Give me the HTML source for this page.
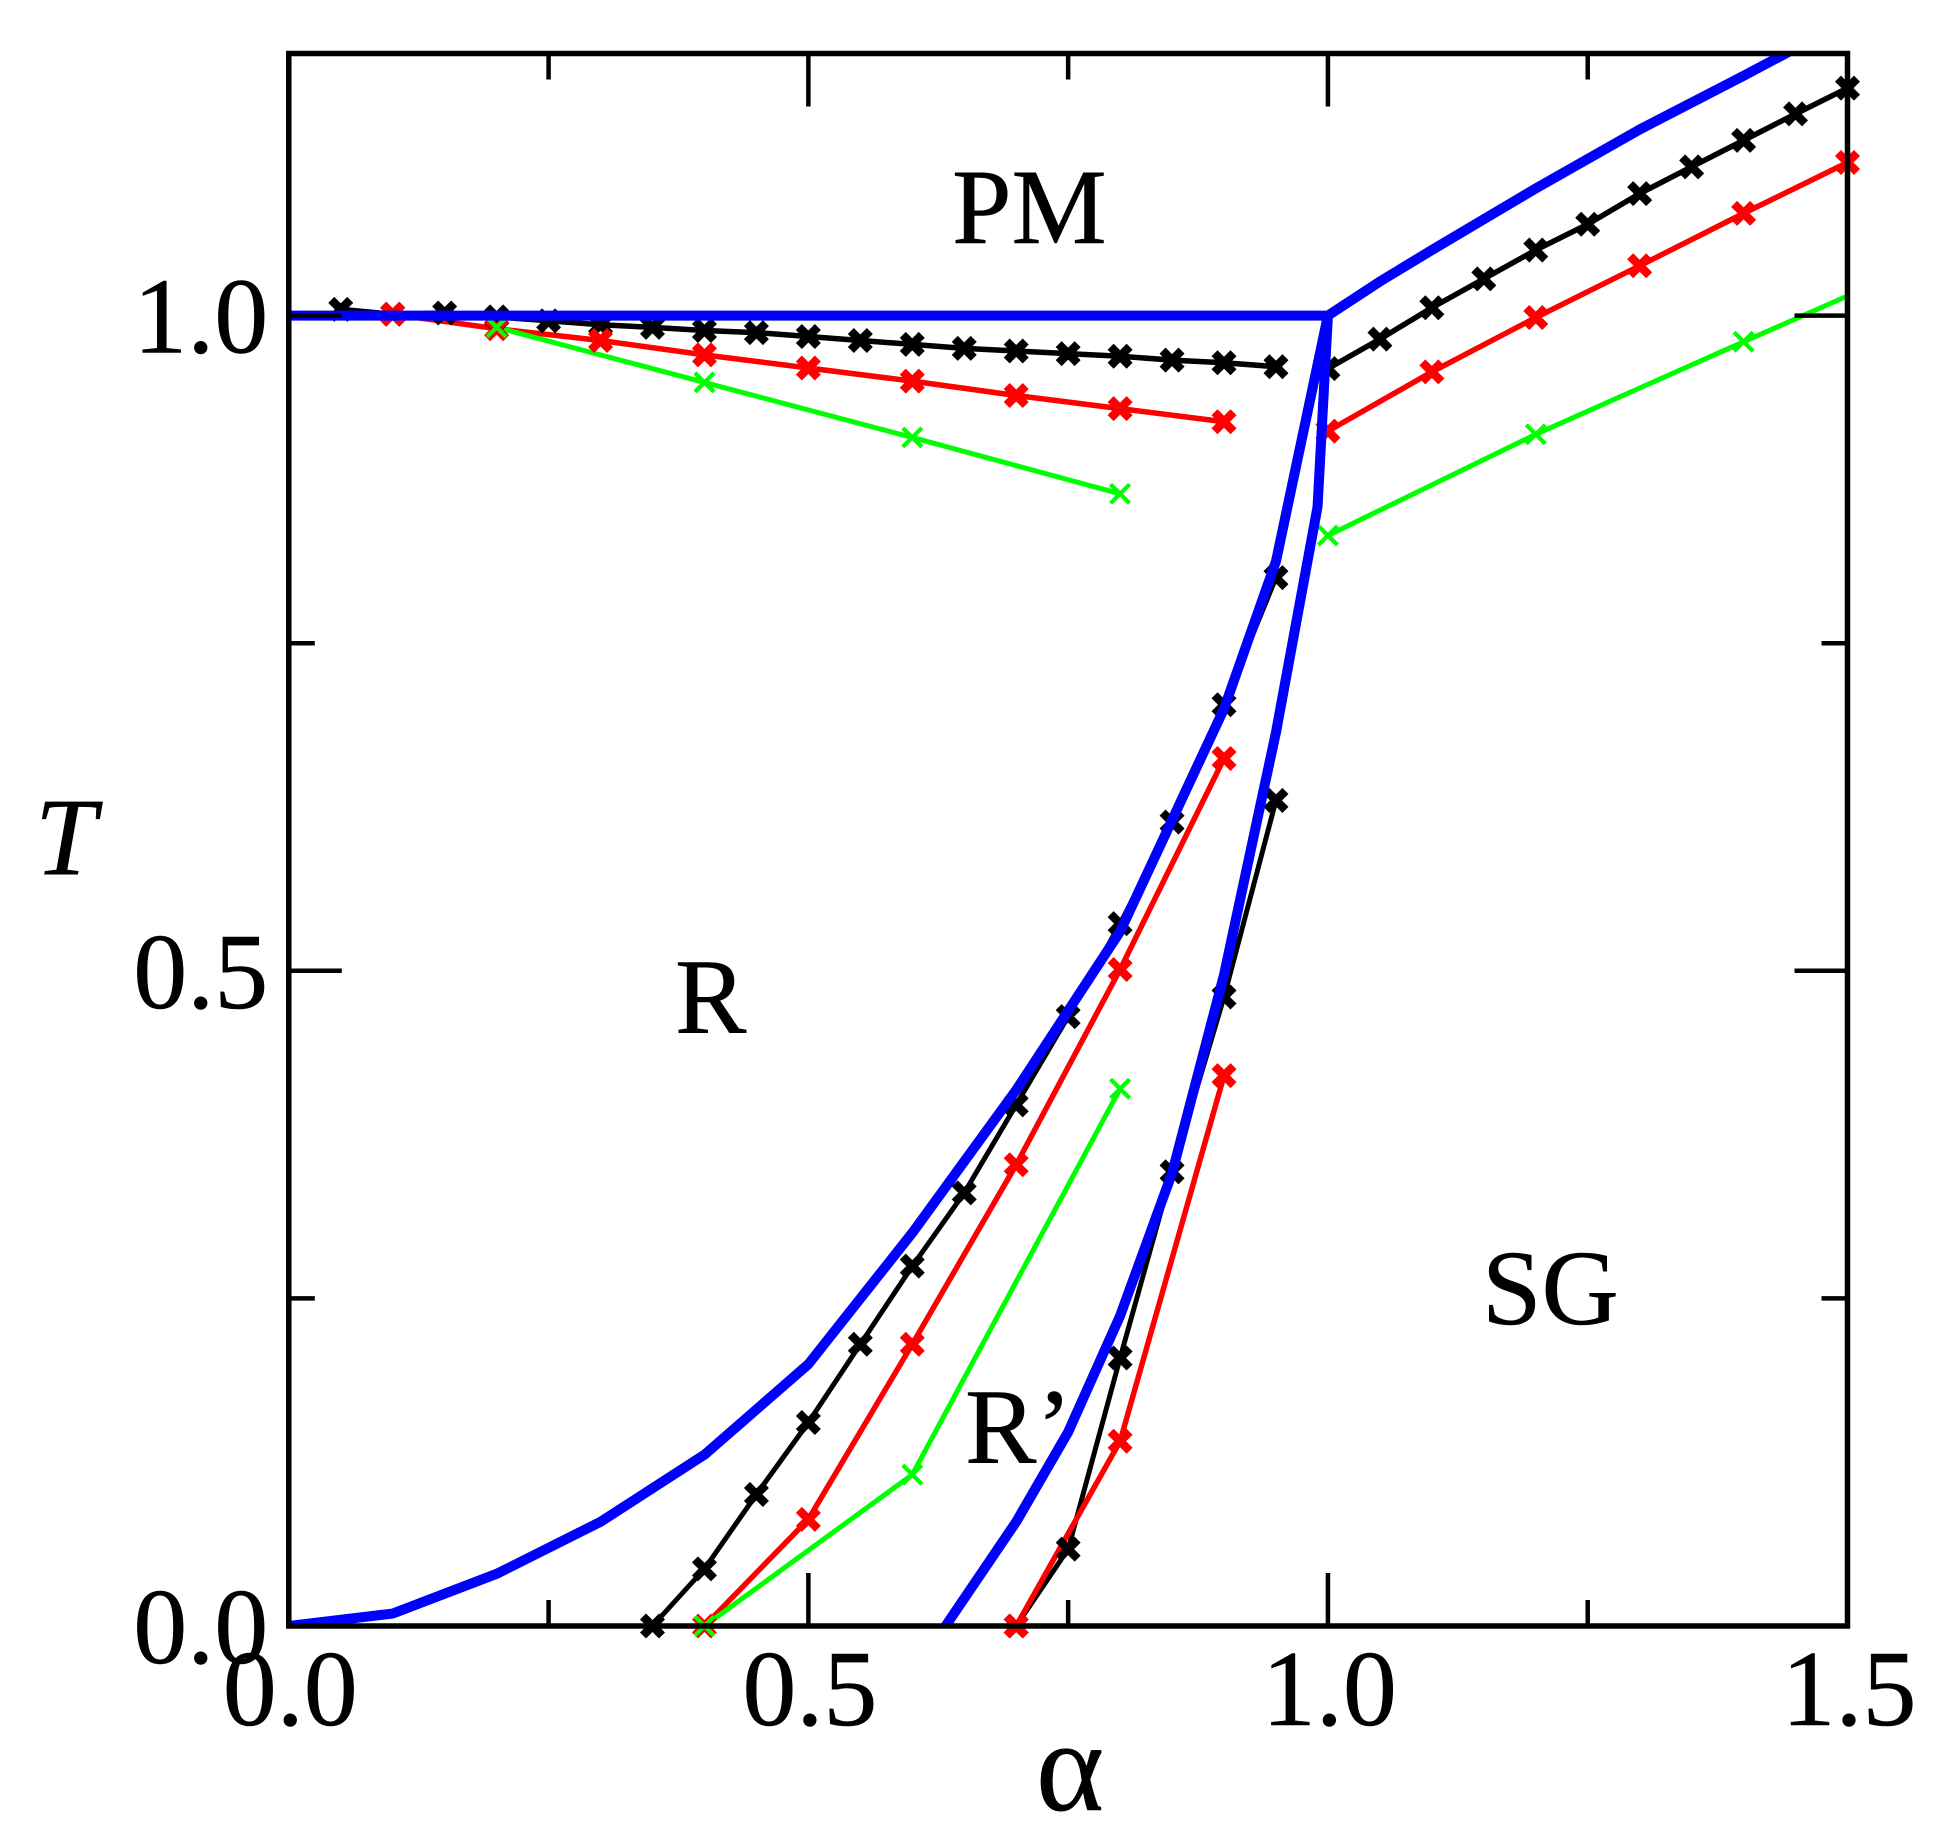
<!DOCTYPE html>
<html lang="en">
<head>
<meta charset="utf-8">
<title>Phase diagram T vs alpha</title>
<style>
html,body{margin:0;padding:0;background:#fff;}
svg{display:block;}
text{font-family:"Liberation Serif","DejaVu Serif",serif;fill:#000;stroke:#000;stroke-width:0.5px;}
</style>
</head>
<body>
<svg id="chart" xmlns="http://www.w3.org/2000/svg" width="1946" height="1840" viewBox="0 0 1946 1840">
  <rect x="0" y="0" width="1946" height="1840" fill="#ffffff"/>
  <defs>
    <clipPath id="plot-clip"><rect x="288.8" y="51" width="1558.7" height="1577"/></clipPath>
  </defs>
  <g id="lines" clip-path="url(#plot-clip)"></g>
  <g id="markers"></g>
  <g id="blue" clip-path="url(#plot-clip)"></g>
  <g id="axes"></g>
  <text x="1070" y="1810" font-size="130" text-anchor="middle">α</text>
  <text x="35" y="874" font-size="110" font-style="italic">T</text>
  <text x="952" y="243" font-size="107">PM</text>
  <text x="675" y="1033" font-size="107">R</text>
  <text x="965" y="1463" font-size="107">R’</text>
  <text x="1482" y="1324" font-size="107">SG</text>
</svg>
<script>
// Axis ranges and ticks
const xMajorTicks = [0, 0.5, 1.0, 1.5];
const xMinorTicks = [0.25, 0.75, 1.25];
const yMajorTicks = [0, 0.5, 1.0];
const yMinorTicks = [0.25, 0.75];
const xTickLabels = ["0.0", "0.5", "1.0", "1.5"];
const yTickLabels = ["0.0", "0.5", "1.0"];

// Black series
const blackUpperAlpha = [0.05,0.1,0.15,0.2,0.25,0.3,0.35,0.4,0.45,0.5,0.55,0.6,0.65,0.7,0.75,0.8,0.85,0.9,0.95];
const blackUpperT = [1.0047,1.001,1.002,0.999,0.996,0.993,0.991,0.9886,0.987,0.984,0.981,0.978,0.975,0.973,0.971,0.969,0.966,0.964,0.961];
const blackRightAlpha = [1.0,1.05,1.1,1.15,1.2,1.25,1.3,1.35,1.4,1.45,1.5];
const blackRightT = [0.9595,0.982,1.006,1.028,1.05,1.0697,1.0931,1.1135,1.1337,1.1539,1.1736];
const blackLowerAlpha = [0.35,0.4,0.45,0.5,0.55,0.6,0.65,0.7,0.75,0.8,0.85,0.9,0.95];
const blackLowerT = [0,0.0436,0.1004,0.1553,0.215,0.2746,0.3305,0.3977,0.465,0.536,0.6135,0.703,0.80];
const blackSgAlpha = [0.7,0.75,0.8,0.85,0.9,0.95];
const blackSgT = [0,0.0587,0.2045,0.3466,0.48,0.63];

// Red series
const redUpperAlpha = [0.1,0.2,0.3,0.4,0.5,0.6,0.7,0.8,0.9];
const redUpperT = [1.001,0.99,0.981,0.97,0.96,0.95,0.939,0.929,0.919];
const redRightAlpha = [1.0,1.1,1.2,1.3,1.4,1.5];
const redRightT = [0.9118,0.957,0.9985,1.038,1.078,1.1168];
const redLowerAlpha = [0.4,0.5,0.6,0.7,0.8,0.9];
const redLowerT = [0,0.0814,0.215,0.352,0.501,0.662];
const redSgAlpha = [0.7,0.8,0.9];
const redSgT = [0,0.141,0.42];

// Green series
const greenUpperAlpha = [0.2,0.4,0.6,0.8];
const greenUpperT = [0.991,0.949,0.907,0.864];
const greenRightAlpha = [1.0,1.2,1.4,1.6];
const greenRightT = [0.8322,0.9094,0.98,1.05];
const greenLowerAlpha = [0.4,0.6,0.8];
const greenLowerT = [0,0.1155,0.41];

// Blue phase boundaries
const bluePmAlpha = [0,1.0,1.05,1.1,1.2,1.3,1.4,1.5];
const bluePmT = [1,1,1.026,1.05,1.097,1.142,1.183,1.225];
const blueRAlpha = [0,0.1,0.2,0.3,0.4,0.5,0.6,0.7,0.8,0.9,0.95,1.0];
const blueRT = [0,0.0095,0.0398,0.0795,0.1307,0.1998,0.30,0.409,0.53,0.70,0.8125,1];
const blueSgAlpha = [0.632,0.7,0.75,0.8,0.85,0.9,0.95,0.99,1.0];
const blueSgT = [0,0.0795,0.148,0.2367,0.3456,0.497,0.682,0.854,1];

const SVGNS = "http://www.w3.org/2000/svg";
const PLOT = {left:288.8, right:1847.5, top:53.5, bottom:1626};
const X_MIN = 0, X_MAX = 1.5, Y_MIN = 0, Y_MAX = 1.2;
function sx(a){ return PLOT.left + (a - X_MIN) / (X_MAX - X_MIN) * (PLOT.right - PLOT.left); }
function sy(t){ return PLOT.bottom - (t - Y_MIN) / (Y_MAX - Y_MIN) * (PLOT.bottom - PLOT.top); }

function drawLine(parent, xs, ys, color, width, name){
  const p = document.createElementNS(SVGNS, "polyline");
  p.setAttribute("points", xs.map(function(a,i){ return sx(a).toFixed(2) + "," + sy(ys[i]).toFixed(2); }).join(" "));
  p.setAttribute("fill", "none");
  p.setAttribute("stroke", color);
  p.setAttribute("stroke-width", width);
  p.setAttribute("stroke-linejoin", "round");
  
  
  parent.appendChild(p);
}
function drawMarkers(parent, xs, ys, color, half, width, name){
  xs.forEach(function(a,i){
    if (a > X_MAX) return;
    const cx = sx(a), cy = sy(ys[i]);
    const m = document.createElementNS(SVGNS, "path");
    m.setAttribute("d", "M" + (cx-half) + " " + (cy-half) + "L" + (cx+half) + " " + (cy+half) + "M" + (cx-half) + " " + (cy+half) + "L" + (cx+half) + " " + (cy-half));
    m.setAttribute("fill", "none");
    m.setAttribute("stroke", color);
    m.setAttribute("stroke-width", width);
    
    
    parent.appendChild(m);
  });
}
function drawSeries(xs, ys, color, name, half, markW, lineW){
  drawLine(document.getElementById("lines"), xs, ys, color, lineW, name + "-line");
  drawMarkers(document.getElementById("markers"), xs, ys, color, half, markW, name + "-marker");
}
drawSeries(blackUpperAlpha, blackUpperT, "#000", "black-upper", 9.5, 8.5, 5.5);
drawSeries(blackRightAlpha, blackRightT, "#000", "black-right", 9.5, 8.5, 5.5);
drawSeries(blackLowerAlpha, blackLowerT, "#000", "black-lower", 9.5, 8.5, 5);
drawSeries(blackSgAlpha, blackSgT, "#000", "black-sg", 9.5, 8.5, 5);
drawSeries(redUpperAlpha, redUpperT, "#ff0000", "red-upper", 9.5, 8.5, 5.5);
drawSeries(redRightAlpha, redRightT, "#ff0000", "red-right", 9.5, 8.5, 5.5);
drawSeries(redLowerAlpha, redLowerT, "#ff0000", "red-lower", 9.5, 8.5, 5.5);
drawSeries(redSgAlpha, redSgT, "#ff0000", "red-sg", 9.5, 8.5, 5.5);
drawSeries(greenUpperAlpha, greenUpperT, "#00ff00", "green-upper", 9.5, 4.2, 5);
drawSeries(greenRightAlpha, greenRightT, "#00ff00", "green-right", 9.5, 4.2, 5);
drawSeries(greenLowerAlpha, greenLowerT, "#00ff00", "green-lower", 9.5, 4.2, 5);

const blueGroup = document.getElementById("blue");
drawLine(blueGroup, bluePmAlpha, bluePmT, "#0000ff", 10, "boundary-pm");
drawLine(blueGroup, blueRAlpha, blueRT, "#0000ff", 10, "boundary-r");
drawLine(blueGroup, blueSgAlpha, blueSgT, "#0000ff", 10, "boundary-sg");

const axes = document.getElementById("axes");
function tick(x1, y1, x2, y2, name){
  const l = document.createElementNS(SVGNS, "line");
  l.setAttribute("x1", x1);
  l.setAttribute("y1", y1);
  l.setAttribute("x2", x2);
  l.setAttribute("y2", y2);
  l.setAttribute("stroke", "#000");
  l.setAttribute("stroke-width", 4.5);
  
  
  axes.appendChild(l);
}
const MAJOR = 53, MINOR = 26;
function xTicks(list, len, name){
  list.forEach(function(a){
    if (a === X_MIN || a === X_MAX) return;
    tick(sx(a), PLOT.bottom, sx(a), PLOT.bottom - len, name);
    tick(sx(a), PLOT.top, sx(a), PLOT.top + len, name);
  });
}
function yTicks(list, len, name){
  list.forEach(function(t){
    if (t === Y_MIN || t === Y_MAX) return;
    tick(PLOT.left, sy(t), PLOT.left + len, sy(t), name);
    tick(PLOT.right, sy(t), PLOT.right - len, sy(t), name);
  });
}
xTicks(xMajorTicks, MAJOR, "x-major-tick");
xTicks(xMinorTicks, MINOR, "x-minor-tick");
yTicks(yMajorTicks, MAJOR, "y-major-tick");
yTicks(yMinorTicks, MINOR, "y-minor-tick");

const frame = document.createElementNS(SVGNS, "rect");
frame.setAttribute("x", PLOT.left);
frame.setAttribute("y", PLOT.top);
frame.setAttribute("width", PLOT.right - PLOT.left);
frame.setAttribute("height", PLOT.bottom - PLOT.top);
frame.setAttribute("fill", "none");
frame.setAttribute("stroke", "#000");
frame.setAttribute("stroke-width", 5.5);


axes.appendChild(frame);

xMajorTicks.forEach(function(a,i){
  const t = document.createElementNS(SVGNS, "text");
  t.setAttribute("x", sx(a) + 1.5);
  t.setAttribute("y", PLOT.bottom + 99);
  t.setAttribute("font-size", 108);
  t.setAttribute("text-anchor", "middle");
  
  
  t.textContent = xTickLabels[i];
  axes.appendChild(t);
});
yMajorTicks.forEach(function(v,i){
  const t = document.createElementNS(SVGNS, "text");
  t.setAttribute("x", PLOT.left - 20.5);
  t.setAttribute("y", sy(v) + 37);
  t.setAttribute("font-size", 108);
  t.setAttribute("text-anchor", "end");
  
  
  t.textContent = yTickLabels[i];
  axes.appendChild(t);
});
</script>
</body>
</html>
